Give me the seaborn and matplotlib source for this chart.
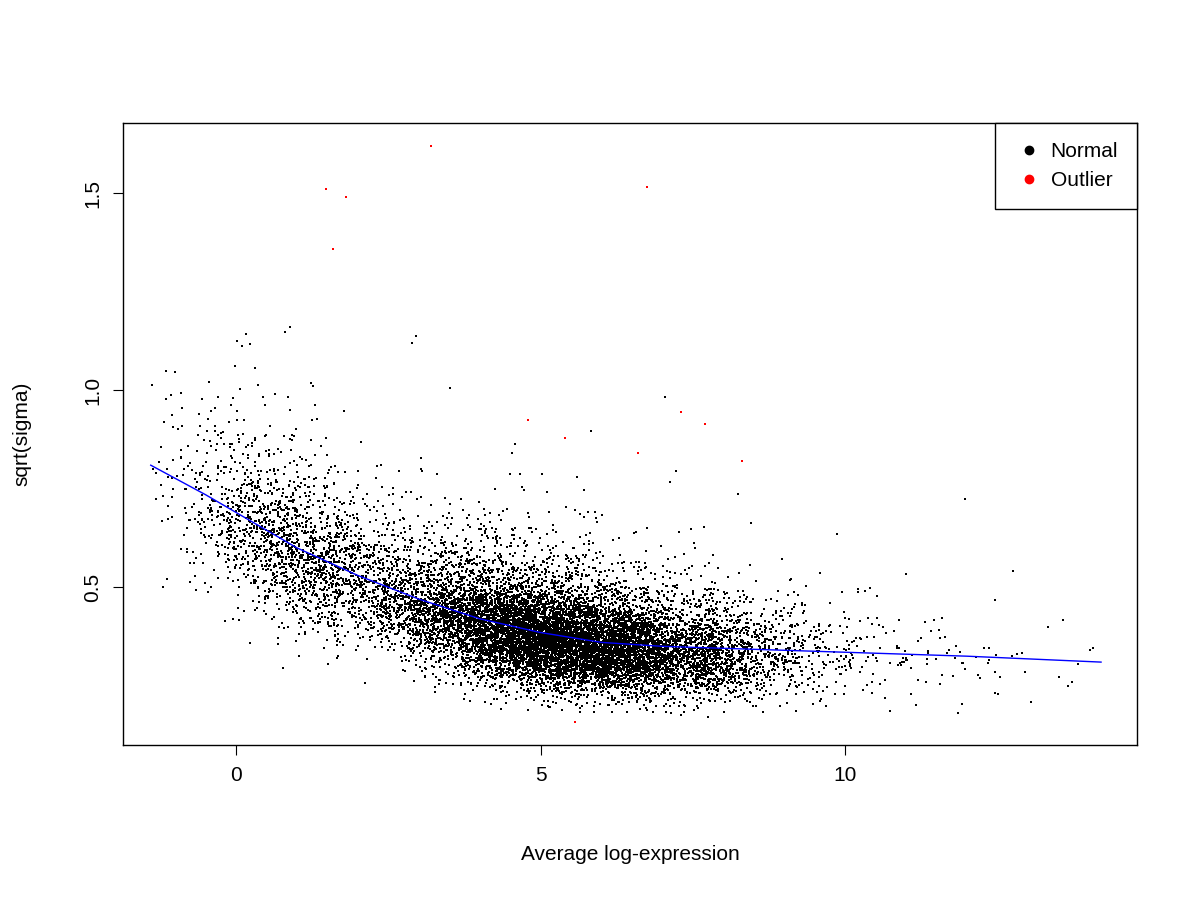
import numpy as np
import pandas as pd
import seaborn as sns
import matplotlib.pyplot as plt

# trend line
trend_x = [-1.4, -0.5, 0, 1, 2, 3, 4, 5, 6, 7, 8, 10, 12, 14.2]
trend_y = [0.81, 0.735, 0.69, 0.60, 0.53, 0.47, 0.42, 0.385, 0.36, 0.35, 0.345, 0.335, 0.325, 0.31]

# outliers (red)
out_x = [1.47, 1.8, 1.6, 3.2, 6.75, 4.8, 5.4, 6.6, 7.3, 7.7, 8.3, 5.57]
out_y = [1.51, 1.49, 1.36, 1.62, 1.515, 0.925, 0.88, 0.84, 0.945, 0.915, 0.82, 0.157]

# normal genes: dense cloud approximated around the trend (too many points to read one by one)
rng = np.random.default_rng(1)
n = 14000
ax_ = np.concatenate([rng.normal(5.3, 1.5, int(n * 0.82)),
                      rng.normal(1.0, 1.0, int(n * 0.13)),
                      rng.exponential(1.6, int(n * 0.05)) + 7.5])
ax_ = ax_[(ax_ > -1.4) & (ax_ < 14.2)]
base = np.interp(ax_, trend_x, trend_y)
spread = np.interp(ax_, [-1, 2, 5, 14], [0.16, 0.16, 0.18, 0.19])
noise = rng.standard_t(12, ax_.size)
norm_y = base * np.exp(noise * spread) - 0.01
keep = (norm_y > 0.17) & (norm_y < 1.45)
normal = pd.DataFrame({"x": ax_[keep], "y": norm_y[keep]})

plt.rcParams['font.family'] = ['Liberation Sans', 'DejaVu Sans']
fig = plt.figure(figsize=(12, 9), dpi=100)
ax = fig.add_axes([0.1025, 0.172, 0.845, 0.691])
sns.scatterplot(data=normal, x="x", y="y", s=4, color="black", marker="s", linewidth=0, ax=ax)
sns.scatterplot(x=out_x, y=out_y, s=4, color="red", marker="s", linewidth=0, ax=ax)
sns.lineplot(x=trend_x, y=trend_y, color="blue", lw=1, ax=ax)

ax.set_xlim(-1.855, 14.79)
ax.set_ylim(0.099, 1.678)
ax.set_xticks([0, 5, 10])
ax.set_yticks([0.5, 1.0, 1.5])
ax.set_yticklabels(["0.5", "1.0", "1.5"], rotation=90, va="center")
ax.tick_params(labelsize=15, length=7, pad=8)
ax.set_xlabel("Average log-expression", fontsize=15)
ax.set_ylabel("sqrt(sigma)", fontsize=15)
ax.xaxis.set_label_coords(0.5, -0.16)
ax.yaxis.set_label_coords(-0.09, 0.5)
for s in ax.spines.values():
    s.set_linewidth(1)

h = [plt.Line2D([], [], marker="o", ls="", color=c, markersize=6) for c in ["black", "red"]]
leg = ax.legend(h, ["Normal", "Outlier"], loc="upper right", fontsize=15, fancybox=False,
                edgecolor="black", framealpha=1, borderaxespad=0, handletextpad=0.3,
                handlelength=1.5, borderpad=0.9, labelspacing=0.5)
leg.get_frame().set_linewidth(1)

fig.savefig("out.png", dpi=100)
